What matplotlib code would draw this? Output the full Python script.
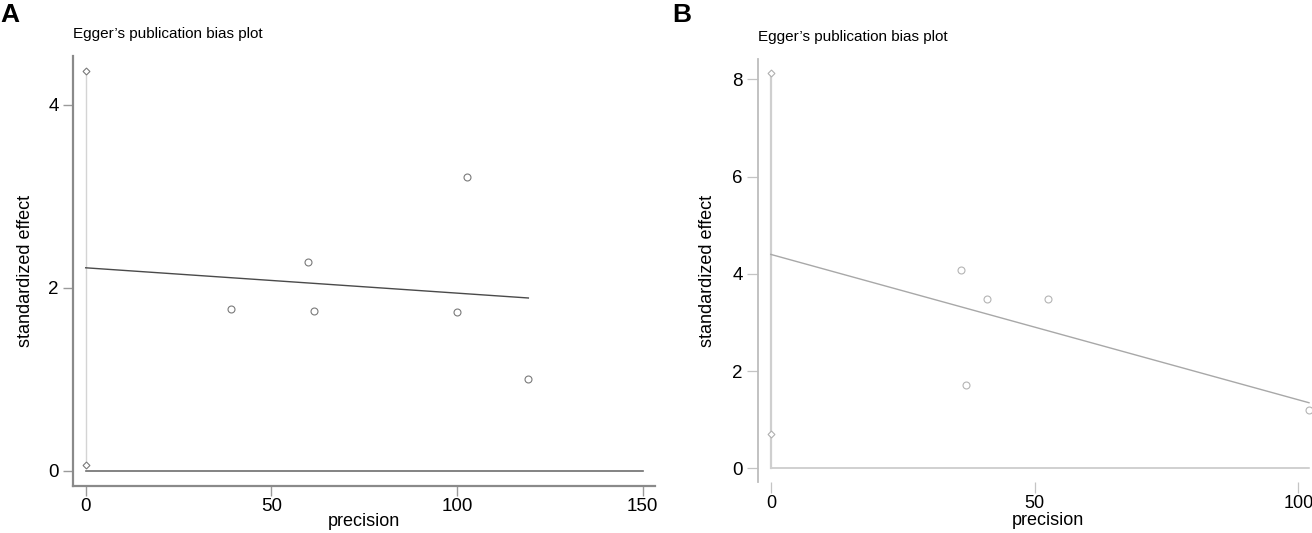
import matplotlib
matplotlib.use("Agg")
import matplotlib.pyplot as plt

W, H = 1312, 533

# ---------------- data ----------------
# Panel A
a_precision = [39.0, 59.8, 61.6, 100.0, 102.6, 119.2]
a_effect = [1.77, 2.28, 1.75, 1.74, 3.21, 1.00]
a_ci = [0.06, 4.37]           # intercept CI drawn at precision 0
a_fit_x = [0, 119.2]
a_fit_y = [2.22, 1.89]
a_zero_x = [0, 150]
a_xticks = [0, 50, 100, 150]
a_yticks = [0, 2, 4]

# Panel B
b_precision = [36.1, 40.9, 52.5, 36.9, 102.0]
b_effect = [4.07, 3.48, 3.48, 1.72, 1.20]
b_ci = [0.70, 8.13]
b_ci_line = [0.0, 8.13]
b_fit_x = [0, 102.0]
b_fit_y = [4.40, 1.35]
b_zero_x = [0, 102.0]
b_xticks = [0, 50, 100]
b_yticks = [0, 2, 4, 6, 8]

NARROW = ['Liberation Sans Narrow', 'Liberation Sans', 'DejaVu Sans']
REG = ['Liberation Sans', 'DejaVu Sans']

fig = plt.figure(figsize=(W / 100, H / 100), dpi=100)


def px_axes(l, r, t, b):
    return fig.add_axes([l / W, 1 - b / H, (r - l) / W, (b - t) / H])


# ---------------- Panel A ----------------
axA = px_axes(72.5, 655, 56, 486)
axA.set_xlim(-3.55, 153.3)
axA.set_ylim(-0.165, 4.535)
axA.plot(a_zero_x, [0, 0], color='#6e6e6e', lw=1.2, zorder=2)
axA.plot([0, 0], a_ci, color='#d4d4d4', lw=1.0, zorder=2)
axA.plot([0, 0], a_ci, ls='none', marker='D', ms=3.5, mfc='white',
         mec='#7a7a7a', mew=0.8, zorder=3)
axA.plot(a_fit_x, a_fit_y, color='#4a4a4a', lw=1.0, zorder=2)
axA.plot(a_precision, a_effect, ls='none', marker='o', ms=5, mfc='white',
         mec='#7a7a7a', mew=0.8, zorder=3)
axA.set_xticks(a_xticks)
axA.set_yticks(a_yticks)
for s in ['top', 'right']:
    axA.spines[s].set_visible(False)
for s in ['left', 'bottom']:
    axA.spines[s].set_color('#8a8a8a')
    axA.spines[s].set_linewidth(1.6)
axA.tick_params(axis='both', direction='out', length=7, width=1.0,
                color='#9a9a9a', labelsize=13.5, pad=3)
axA.tick_params(axis='x', pad=1.5)
for lab in axA.get_xticklabels() + axA.get_yticklabels():
    lab.set_family(NARROW)
axA.set_xlabel('precision', family=NARROW, fontsize=13, labelpad=-1)
axA.set_ylabel('standardized effect', family=REG, fontsize=13, labelpad=10)

# ---------------- Panel B ----------------
axB = px_axes(758, 1338, 59.4, 482)
axB.set_xlim(-2.43, 107.5)
axB.set_ylim(-0.28, 8.41)
axB.plot(b_zero_x, [0, 0], color='#c4c4c4', lw=1.1, zorder=2)
axB.plot([0, 0], b_ci_line, color='#cfcfcf', lw=1.6, zorder=2)
axB.plot([0, 0], b_ci, ls='none', marker='D', ms=3.5, mfc='white',
         mec='#b0b0b0', mew=0.8, zorder=3)
axB.plot(b_fit_x, b_fit_y, color='#a8a8a8', lw=1.0, zorder=2)
axB.plot(b_precision, b_effect, ls='none', marker='o', ms=5, mfc='white',
         mec='#b4b4b4', mew=0.8, zorder=3)
axB.set_xticks(b_xticks)
axB.set_yticks(b_yticks)
for s in ['top', 'right', 'bottom']:
    axB.spines[s].set_visible(False)
axB.spines['left'].set_color('#bdbdbd')
axB.spines['left'].set_linewidth(1.3)
axB.tick_params(axis='both', direction='out', length=8, width=0.9,
                color='#c4c4c4', labelsize=13.5, pad=3)
axB.tick_params(axis='x', pad=1, labelsize=13)
for lab in axB.get_xticklabels() + axB.get_yticklabels():
    lab.set_family(NARROW)
axB.set_xlabel('precision', family=NARROW, fontsize=13, labelpad=0.5)
axB.set_ylabel('standardized effect', family=REG, fontsize=13, labelpad=12)

# ---------------- titles / panel letters ----------------
fig.text(73 / W, 1 - 34 / H, "Egger\u2019s publication bias plot", family=NARROW,
         fontsize=11, va='center', ha='left')
fig.text(758 / W, 1 - 37 / H, "Egger\u2019s publication bias plot", family=NARROW,
         fontsize=11, va='center', ha='left')
fig.text(0 / W, 1 - 15 / H, "A", family=REG, fontsize=19, fontweight='bold',
         va='center', ha='left')
fig.text(672 / W, 1 - 15 / H, "B", family=REG, fontsize=19, fontweight='bold',
         va='center', ha='left')

fig.savefig('out.png', dpi=100)
